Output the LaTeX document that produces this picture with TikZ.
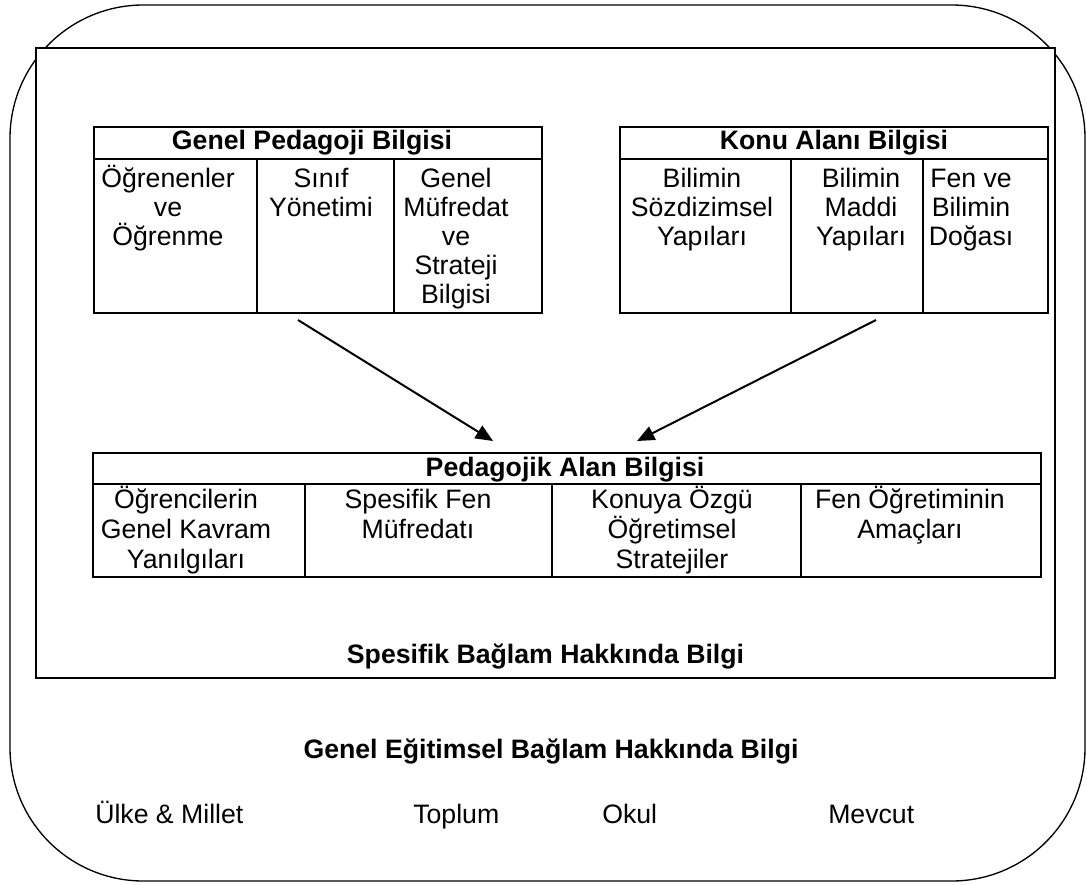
\documentclass[tikz,border=0pt]{standalone}
\usepackage{fontspec}
\setmainfont{Liberation Sans}
\usetikzlibrary{arrows.meta,calc}
\newcommand{\cellstrut}{\rule{0pt}{20pt}}
\begin{document}
\begin{tikzpicture}[x=0.75pt,y=-0.75pt,
  outerframe/.style={draw=black,line width=1pt,rounded corners=100pt},
  innerframe/.style={draw=black,fill=white,line width=1.2pt},
  tab/.style={draw=black,line width=1.5pt},
  head/.style={font=\fontsize{20}{22}\selectfont\bfseries,text height=14.5pt,text depth=4.2pt,inner sep=0pt},
  cell/.style={anchor=north,align=center,inner sep=0pt,font=\fontsize{20}{21.75}\selectfont},
  pcell/.style={cell,font=\fontsize{20}{22.5}\selectfont},
  caption/.style={anchor=base,inner sep=0pt,font=\fontsize{20}{24}\selectfont\bfseries},
  item/.style={anchor=base west,inner sep=0pt,font=\fontsize{20}{24}\selectfont},
  link/.style={draw=black,line width=1.5pt,-{Triangle[length=13pt,width=11pt]}}
]
\useasboundingbox (0,0) rectangle (1087,884);

% outer frame: general educational context
\draw[outerframe] (10,5) rectangle (1085,881);
% inner frame: specific context
\draw[innerframe] (36,48) rectangle (1055,678);

% table: general pedagogical knowledge
\draw[tab] (94,127) rectangle (542,313);
\draw[tab] (94,159) -- (542,159);
\draw[tab] (257,159) -- (257,313);
\draw[tab] (394,159) -- (394,313);
\node[head] (gpbhead) at (312,143) {Genel Pedagoji Bilgisi};
\node[cell] (gpb1) at (168,160.3) {\cellstrut Öğrenenler\\ve\\Öğrenme};
\node[cell] (gpb2) at (321,160.3) {\cellstrut Sınıf\\Yönetimi};
\node[cell] (gpb3) at (456,160.3) {\cellstrut Genel\\Müfredat\\ve\\Strateji\\Bilgisi};

% table: subject matter knowledge
\draw[tab] (620,127) rectangle (1048,313);
\draw[tab] (620,159) -- (1048,159);
\draw[tab] (791,159) -- (791,313);
\draw[tab] (923,159) -- (923,313);
\node[head] (kabhead) at (834,143) {Konu Alanı Bilgisi};
\node[cell] (kab1) at (702,160.3) {\cellstrut Bilimin\\Sözdizimsel\\Yapıları};
\node[cell] (kab2) at (861,160.3) {\cellstrut Bilimin\\Maddi\\Yapıları};
\node[cell] (kab3) at (971,160.3) {\cellstrut Fen ve\\Bilimin\\Doğası};

% table: pedagogical content knowledge
\draw[tab] (93,453) rectangle (1041,577);
\draw[tab] (93,484) -- (1041,484);
\draw[tab] (305,484) -- (305,577);
\draw[tab] (552,484) -- (552,577);
\draw[tab] (801,484) -- (801,577);
\node[head] (pabhead) at (565,470) {Pedagojik Alan Bilgisi};
\node[pcell] (pab1) at (186,481.3) {\cellstrut Öğrencilerin\\Genel Kavram\\Yanılgıları};
\node[pcell] (pab2) at (418,481.3) {\cellstrut Spesifik Fen\\Müfredatı};
\node[pcell] (pab3) at (672,481.3) {\cellstrut Konuya Özgü\\Öğretimsel\\Stratejiler};
\node[pcell] (pab4) at (910,481.3) {\cellstrut Fen Öğretiminin\\Amaçları};

% arrows into the pedagogical content knowledge table
\coordinate (gpbout) at (298,320);
\coordinate (kabout) at (876,320);
\coordinate (pabinL) at (493,441);
\coordinate (pabinR) at (637,441);
\draw[link] (gpbout) -- (pabinL);
\draw[link] (kabout) -- (pabinR);

% frame captions
\node[caption] (spec) at (545.5,663) {Spesifik Bağlam Hakkında Bilgi};
\node[caption] (gen) at (551,758) {Genel Eğitimsel Bağlam Hakkında Bilgi};

% context items
\node[item] (ulke) at (95,823) {Ülke \& Millet};
\node[item] (toplum) at (413,823) {Toplum};
\node[item] (okul) at (602,823) {Okul};
\node[item] (mevcut) at (828,823) {Mevcut};
\end{tikzpicture}
\end{document}
